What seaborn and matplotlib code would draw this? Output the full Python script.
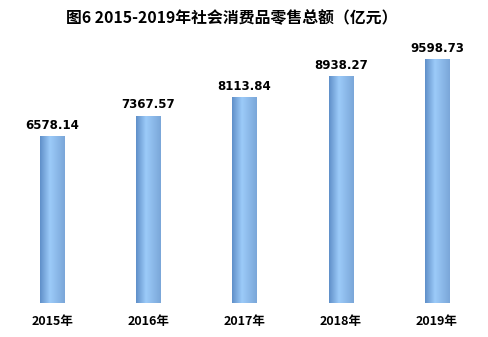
import numpy as np
import pandas as pd
import matplotlib
matplotlib.use("Agg")
import matplotlib.pyplot as plt
from matplotlib.colors import LinearSegmentedColormap
import seaborn as sns

years = ["2015年", "2016年", "2017年", "2018年", "2019年"]
values = [6578.14, 7367.57, 8113.84, 8938.27, 9598.73]
title = "图6 2015-2019年社会消费品零售总额（亿元）"

sns.set_theme(style="white")
plt.rcParams['font.family'] = ['Noto Sans CJK SC', 'DejaVu Sans']

df = pd.DataFrame({"year": years, "value": values})

fig = plt.figure(figsize=(4.88, 3.37), dpi=100)
ax = fig.add_axes([4 / 488, (337 - 303) / 337, 481 / 488, (303 - 36) / 337])

sns.barplot(data=df, x="year", y="value", ax=ax, width=0.25, color="#80acdc",
            edgecolor="none", linewidth=0)

cmap = LinearSegmentedColormap.from_list(
    "bar", [(0.0, "#5f8fc8"), (0.4, "#9ccbf9"), (1.0, "#7aa6d8")])
grad = np.linspace(0, 1, 256).reshape(1, -1)
for p in ax.patches:
    x0, w, h = p.get_x(), p.get_width(), p.get_height()
    im = ax.imshow(grad, cmap=cmap, aspect="auto",
                   extent=[x0, x0 + w, 0, h], zorder=3)
    im.set_clip_path(p)
    p.set_facecolor("none")

ax.set_xlim(-0.5, 4.5)
ax.set_ylim(0, 10500)

for i, v in enumerate(values):
    ax.annotate(f"{v:.2f}", (i, v), xytext=(0, 3), textcoords="offset points",
                ha="center", va="bottom", fontsize=8.5, fontweight="bold",
                family=["DejaVu Sans"], color="black")

ax.set_xlabel("")
ax.set_ylabel("")
ax.set_yticks([])
ax.tick_params(axis="x", length=0, pad=9)
for lab in ax.get_xticklabels():
    lab.set_fontsize(9)
    lab.set_fontweight("bold")
    lab.set_color("black")
for s in ax.spines.values():
    s.set_visible(False)

fig.text(232 / 488, 1 - 18 / 337, title, ha="center", va="center",
         fontsize=11.4, fontweight="bold", color="black")

fig.savefig("out.png", dpi=100)
